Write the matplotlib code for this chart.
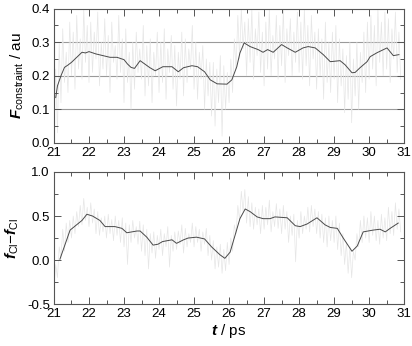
import numpy as np
import matplotlib
matplotlib.use('Agg')
import matplotlib.pyplot as plt
from matplotlib.ticker import MultipleLocator, FormatStrFormatter

plt.rcParams['font.family'] = ['Liberation Sans', 'DejaVu Sans']
plt.rcParams['mathtext.fontset'] = 'custom'
plt.rcParams['mathtext.rm'] = 'Liberation Sans'
plt.rcParams['mathtext.it'] = 'Liberation Sans:italic'
plt.rcParams['mathtext.bf'] = 'Liberation Sans:bold'
plt.rcParams['mathtext.bfit'] = 'Liberation Sans:bold:italic'

# raw (noisy) traces, sampled every 0.05 ps from 21.0 ps
t_raw_start = 21.0
t_raw_step = 0.05
force_raw = [
    0.08, 0.22, 0.03, 0.30, 0.12, 0.34, 0.18, 0.27, 0.15, 0.36,
    0.20, 0.33, 0.16, 0.38, 0.22, 0.31, 0.19, 0.40, 0.24, 0.35,
    0.18, 0.36, 0.21, 0.33, 0.25, 0.39, 0.17, 0.30, 0.22, 0.37,
    0.20, 0.32, 0.15, 0.36, 0.24, 0.29, 0.19, 0.38, 0.21, 0.31,
    0.12, 0.34, 0.18, 0.27, 0.10, 0.30, 0.16, 0.33, 0.21, 0.28,
    0.19, 0.35, 0.14, 0.29, 0.17, 0.31, 0.12, 0.27, 0.20, 0.33,
    0.15, 0.30, 0.18, 0.34, 0.13, 0.28, 0.21, 0.32, 0.16, 0.29,
    0.11, 0.27, 0.19, 0.33, 0.14, 0.31, 0.18, 0.28, 0.22, 0.35,
    0.16, 0.30, 0.13, 0.27, 0.19, 0.29, 0.10, 0.25, 0.14, 0.24,
    0.08, 0.24, 0.05, 0.22, 0.12, 0.26, 0.02, 0.23, 0.10, 0.21,
    0.12, 0.25, 0.15, 0.31, 0.22, 0.38, 0.25, 0.40, 0.28, 0.36,
    0.20, 0.37, 0.24, 0.40, 0.19, 0.34, 0.26, 0.39, 0.21, 0.33,
    0.17, 0.36, 0.22, 0.40, 0.20, 0.32, 0.25, 0.38, 0.19, 0.35,
    0.23, 0.40, 0.18, 0.34, 0.26, 0.37, 0.20, 0.33, 0.24, 0.39,
    0.21, 0.36, 0.19, 0.40, 0.23, 0.35, 0.17, 0.38, 0.25, 0.33,
    0.16, 0.34, 0.20, 0.31, 0.13, 0.36, 0.18, 0.30, 0.15, 0.33,
    0.19, 0.35, 0.12, 0.31, 0.17, 0.28, 0.09, 0.26, 0.13, 0.30,
    0.06, 0.25, 0.14, 0.30, 0.10, 0.27, 0.18, 0.33, 0.15, 0.36,
    0.19, 0.38, 0.22, 0.35, 0.17, 0.40, 0.24, 0.36, 0.20, 0.39,
    0.22, 0.37, 0.18, 0.34, 0.25, 0.39, 0.21, 0.33, 0.19,
]
fdiff_raw = [
    -0.30, -0.05, -0.20, 0.15, 0.02, 0.35, 0.10, 0.42, 0.20, 0.45,
    0.25, 0.50, 0.30, 0.55, 0.38, 0.62, 0.40, 0.70, 0.45, 0.60,
    0.38, 0.65, 0.42, 0.58, 0.30, 0.55, 0.28, 0.48, 0.32, 0.50,
    0.25, 0.52, 0.30, 0.46, 0.22, 0.50, 0.28, 0.45, 0.20, 0.48,
    0.15, 0.42, -0.05, 0.40, 0.20, 0.45, 0.25, 0.38, 0.18, 0.44,
    0.10, 0.40, 0.05, 0.35, -0.10, 0.30, 0.08, 0.32, 0.02, 0.28,
    0.12, 0.35, 0.05, 0.30, 0.15, 0.38, -0.08, 0.28, 0.10, 0.32,
    0.12, 0.33, 0.18, 0.40, 0.08, 0.36, 0.15, 0.30, 0.20, 0.42,
    0.15, 0.38, 0.20, 0.35, 0.10, 0.32, 0.18, 0.36, 0.05, 0.28,
    0.00, 0.22, -0.10, 0.15, -0.08, 0.18, -0.15, 0.12, -0.12, 0.20,
    -0.05, 0.25, 0.10, 0.40, 0.30, 0.62, 0.45, 0.78, 0.55, 0.80,
    0.42, 0.72, 0.38, 0.65, 0.35, 0.60, 0.40, 0.58, 0.30, 0.62,
    0.35, 0.60, 0.40, 0.68, 0.32, 0.55, 0.38, 0.64, 0.36, 0.58,
    0.30, 0.62, 0.35, 0.55, 0.20, 0.50, 0.28, 0.52, -0.02, 0.45,
    0.25, 0.55, 0.30, 0.50, 0.35, 0.60, 0.32, 0.62, 0.38, 0.58,
    0.30, 0.55, 0.25, 0.52, 0.20, 0.48, 0.15, 0.50, 0.22, 0.45,
    0.20, 0.50, 0.12, 0.42, 0.05, 0.30, -0.05, 0.20, -0.15, 0.15,
    -0.20, 0.10, 0.00, 0.30, 0.15, 0.45, 0.20, 0.50, 0.25, 0.48,
    0.20, 0.55, 0.28, 0.50, 0.22, 0.45, 0.18, 0.52, 0.25, 0.48,
    0.22, 0.60, 0.30, 0.55, 0.28, 0.65, 0.35, 0.58, 0.32,
]

# running averages (dark lines)
force_avg_t = [21.05, 21.1, 21.2, 21.3, 21.4, 21.5, 21.6, 21.7, 21.8, 21.9,
               22.0, 22.2, 22.4, 22.6, 22.8, 23.0, 23.1, 23.2, 23.3, 23.46,
               23.74, 23.89, 24.11, 24.37, 24.55, 24.7, 24.94, 25.1, 25.3, 25.46,
               25.66, 25.94, 26.08, 26.22, 26.31, 26.43, 26.6, 26.83, 26.97, 27.1,
               27.26, 27.5, 27.66, 27.89, 28.11, 28.26, 28.46, 28.69, 28.89, 29.17,
               29.31, 29.51, 29.6, 29.74, 29.94, 30.03, 30.23, 30.51, 30.69, 30.85]
force_avg = [0.135, 0.17, 0.20, 0.225, 0.232, 0.24, 0.25, 0.26, 0.27, 0.268,
             0.272, 0.265, 0.26, 0.255, 0.255, 0.248, 0.235, 0.225, 0.222, 0.245,
             0.224, 0.215, 0.227, 0.227, 0.212, 0.224, 0.23, 0.227, 0.212, 0.188,
             0.176, 0.175, 0.188, 0.227, 0.268, 0.298, 0.287, 0.278, 0.27, 0.278,
             0.27, 0.293, 0.283, 0.27, 0.283, 0.287, 0.283, 0.263, 0.242, 0.245,
             0.233, 0.209, 0.21, 0.224, 0.242, 0.257, 0.269, 0.283, 0.26, 0.263]

fdiff_avg_t = [21.17, 21.46, 21.8, 21.94, 22.1, 22.31, 22.46, 22.74, 22.94, 23.08,
               23.37, 23.46, 23.65, 23.83, 23.97, 24.1, 24.37, 24.5, 24.7, 24.83,
               25.07, 25.3, 25.5, 25.74, 25.88, 26.03, 26.17, 26.31, 26.46, 26.6,
               26.8, 26.97, 27.17, 27.31, 27.66, 27.89, 28.03, 28.23, 28.51, 28.74,
               28.89, 29.09, 29.26, 29.51, 29.66, 29.83, 30.11, 30.31, 30.46, 30.6,
               30.83]
fdiff_avg = [0.01, 0.34, 0.45, 0.52, 0.50, 0.45, 0.38, 0.38, 0.36, 0.31,
             0.33, 0.33, 0.26, 0.17, 0.18, 0.21, 0.23, 0.19, 0.23, 0.25,
             0.26, 0.24, 0.15, 0.06, 0.02, 0.09, 0.28, 0.47, 0.58, 0.55,
             0.49, 0.47, 0.47, 0.49, 0.48, 0.39, 0.38, 0.41, 0.48, 0.40,
             0.37, 0.36, 0.25, 0.10, 0.16, 0.32, 0.34, 0.35, 0.32, 0.36,
             0.42]

t_force_raw = t_raw_start + t_raw_step * np.arange(len(force_raw))
t_fdiff_raw = t_raw_start + t_raw_step * np.arange(len(fdiff_raw))

fig = plt.figure(figsize=(4.12, 3.46), dpi=100)
ax1 = fig.add_axes([0.131, 0.587, 0.850, 0.388])
ax2 = fig.add_axes([0.131, 0.121, 0.850, 0.382])

raw_color = '#e6e6e6'
avg_color = '#4a4a4a'

for y in [0.1, 0.2, 0.3]:
    ax1.axhline(y, color='#9a9a9a', lw=0.8, zorder=0)
ax1.plot(t_force_raw, force_raw, color=raw_color, lw=0.5, zorder=1)
ax1.plot(force_avg_t, force_avg, color=avg_color, lw=0.7, zorder=2)
ax1.set_ylim(0.0, 0.4)
ax1.yaxis.set_major_locator(MultipleLocator(0.1))
ax1.yaxis.set_minor_locator(MultipleLocator(0.05))
ax1.yaxis.set_major_formatter(FormatStrFormatter('%.1f'))
ax1.set_ylabel(r'$\boldsymbol{F}_{\mathrm{constraint}}$ / au', fontsize=11, labelpad=4)

ax2.plot(t_fdiff_raw, fdiff_raw, color=raw_color, lw=0.5, zorder=1)
ax2.plot(fdiff_avg_t, fdiff_avg, color=avg_color, lw=0.7, zorder=2)
ax2.set_ylim(-0.5, 1.0)
ax2.yaxis.set_major_locator(MultipleLocator(0.5))
ax2.yaxis.set_minor_locator(MultipleLocator(0.25))
ax2.yaxis.set_major_formatter(FormatStrFormatter('%.1f'))
ax2.set_ylabel(r'$\boldsymbol{f}_{\mathrm{Cl}}$$-$$\boldsymbol{f}_{\mathrm{Cl}}$', fontsize=11, labelpad=4)
ax2.set_xlabel(r'$\boldsymbol{t}$ / ps', fontsize=11, labelpad=1)

for ax in (ax1, ax2):
    ax.set_xlim(21, 31)
    ax.xaxis.set_major_locator(MultipleLocator(1))
    ax.xaxis.set_minor_locator(MultipleLocator(0.5))
    ax.tick_params(which='both', direction='in', top=True, right=True,
                   labelsize=9.5, color='#555555', pad=3)
    ax.tick_params(which='major', length=5, width=0.7)
    ax.tick_params(which='minor', length=3, width=0.7)
    for s in ax.spines.values():
        s.set_color('#555555')
        s.set_linewidth(0.8)

fig.align_ylabels([ax1, ax2])
fig.savefig('out.png', dpi=100)
